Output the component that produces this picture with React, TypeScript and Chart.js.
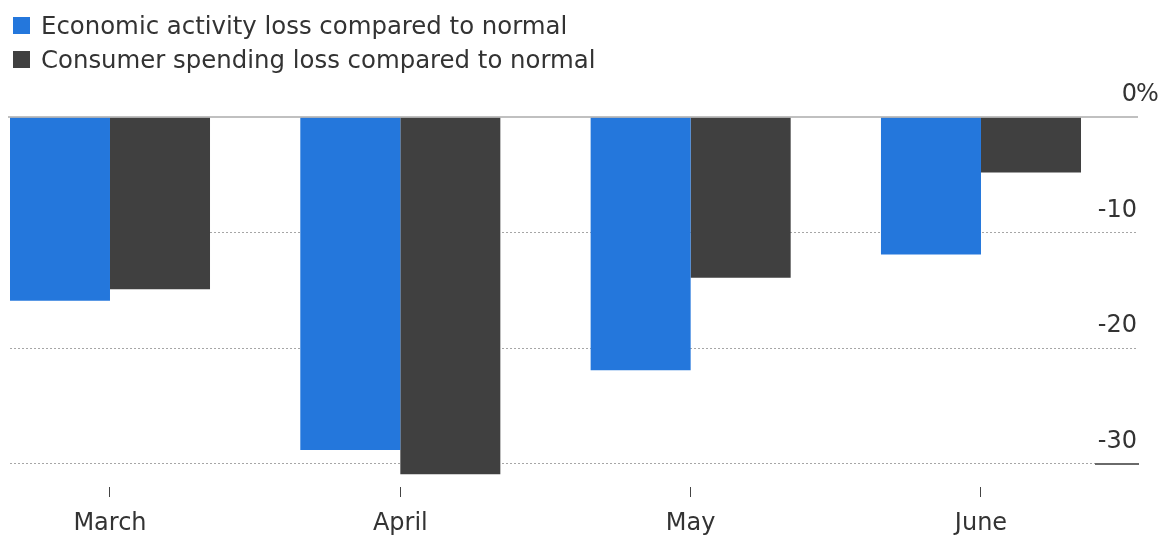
import React, { useEffect, useRef } from 'react';
import { Chart, registerables } from 'chart.js';

Chart.register(...registerables);

const categories = ['March', 'April', 'May', 'June'];
const economicActivity = [-15.9, -28.8, -21.9, -11.9];
const consumerSpending = [-14.9, -30.9, -13.9, -4.8];
const yTickValues = [0, -10, -20, -30];
const seriesNames = [
  'Economic activity loss compared to normal',
  'Consumer spending loss compared to normal',
];
const seriesColors = ['#2477DC', '#404040'];

const FONT_FAMILY = '"DejaVu Sans", sans-serif';
const TEXT_COLOR = '#333333';

export default function App() {
  const canvasRef = useRef<HTMLCanvasElement>(null);

  useEffect(() => {
    if (!canvasRef.current) return;

    const decorations = {
      id: 'decorations',
      afterDatasetsDraw(chart: any) {
        const { ctx, chartArea, scales } = chart;
        const y = scales.y;
        ctx.save();
        const y0 = y.getPixelForValue(0);
        ctx.strokeStyle = '#ababab';
        ctx.lineWidth = 1.5;
        ctx.beginPath();
        ctx.moveTo(chartArea.left - 2, y0);
        ctx.lineTo(chartArea.right, y0);
        ctx.stroke();
        const yb = y.getPixelForValue(yTickValues[yTickValues.length - 1]);
        ctx.strokeStyle = '#6a6a6a';
        ctx.lineWidth = 2;
        ctx.beginPath();
        ctx.moveTo(chartArea.right - 43, yb);
        ctx.lineTo(chartArea.right + 1, yb);
        ctx.stroke();
        ctx.font = `24px ${FONT_FAMILY}`;
        ctx.fillStyle = TEXT_COLOR;
        ctx.textAlign = 'left';
        ctx.textBaseline = 'middle';
        ctx.fillText('%', chartArea.right - 2, y0 - 22);
        ctx.restore();
      },
    };

    const chart = new Chart(canvasRef.current, {
      type: 'bar',
      data: {
        datasets: [
          {
            label: seriesNames[0],
            data: economicActivity.map((v, i) => ({ x: i, y: v })),
            backgroundColor: seriesColors[0],
            borderWidth: 0,
          },
          {
            label: seriesNames[1],
            data: consumerSpending.map((v, i) => ({ x: i, y: v })),
            backgroundColor: seriesColors[1],
            borderWidth: 0,
          },
        ],
      },
      options: {
        animation: false,
        responsive: false,
        maintainAspectRatio: false,
        events: [],
        layout: { padding: { left: 10, right: 0, top: 117, bottom: 0 } },
        datasets: {
          bar: { barPercentage: 1, categoryPercentage: 0.689 },
        },
        plugins: {
          legend: { display: false },
          tooltip: { enabled: false },
          title: { display: false },
        },
        scales: {
          x: {
            type: 'linear',
            offset: false,
            min: -0.3444,
            max: 3.5408,
            afterBuildTicks: (s: any) => {
              s.ticks = categories.map((_, i) => ({ value: i }));
            },
            afterFit: (s: any) => {
              s.height = 48;
            },
            ticks: {
              callback: (v: any) => categories[v as number] ?? '',
              autoSkip: false,
              maxRotation: 0,
              padding: 12,
              color: TEXT_COLOR,
              font: { family: FONT_FAMILY, size: 24 },
            },
            grid: {
              offset: false,
              drawOnChartArea: false,
              drawTicks: true,
              tickLength: 10,
              tickColor: '#444444',
              tickWidth: 1,
            },
            border: { display: false },
          },
          y: {
            position: 'right',
            min: -32,
            max: 0,
            afterBuildTicks: (s: any) => {
              s.ticks = yTickValues.map((v) => ({ value: v }));
            },
            afterFit: (s: any) => {
              s.width = 22;
            },
            ticks: {
              mirror: true,
              padding: -1,
              labelOffset: -22,
              callback: (v: any) => String(v),
              color: TEXT_COLOR,
              font: { family: FONT_FAMILY, size: 24 },
            },
            grid: {
              drawTicks: false,
              lineWidth: 1,
              color: (ctx: any) =>
                ctx.tick && ctx.tick.value === 0 ? 'rgba(0,0,0,0)' : '#a6a6a6',
            },
            border: { display: false, dash: [2, 2] },
          },
        },
      },
      plugins: [decorations],
    });

    return () => chart.destroy();
  }, []);

  return (
    <div
      style={{
        position: 'fixed',
        left: 0,
        top: 0,
        width: 1160,
        height: 535,
        background: '#ffffff',
        overflow: 'hidden',
      }}
    >
      <canvas
        ref={canvasRef}
        width={1160}
        height={535}
        style={{ position: 'absolute', left: 0, top: 0, width: 1160, height: 535 }}
      />
      {seriesNames.map((name, i) => (
        <div
          key={name}
          style={{
            position: 'absolute',
            left: 13,
            top: 12 + i * 34,
            height: 26,
            display: 'flex',
            alignItems: 'center',
            fontFamily: FONT_FAMILY,
            fontSize: 24.4,
            color: TEXT_COLOR,
            whiteSpace: 'nowrap',
          }}
        >
          <span
            style={{
              display: 'inline-block',
              width: 17,
              height: 17,
              background: seriesColors[i],
              marginRight: 11,
            }}
          />
          <span>{name}</span>
        </div>
      ))}
    </div>
  );
}
